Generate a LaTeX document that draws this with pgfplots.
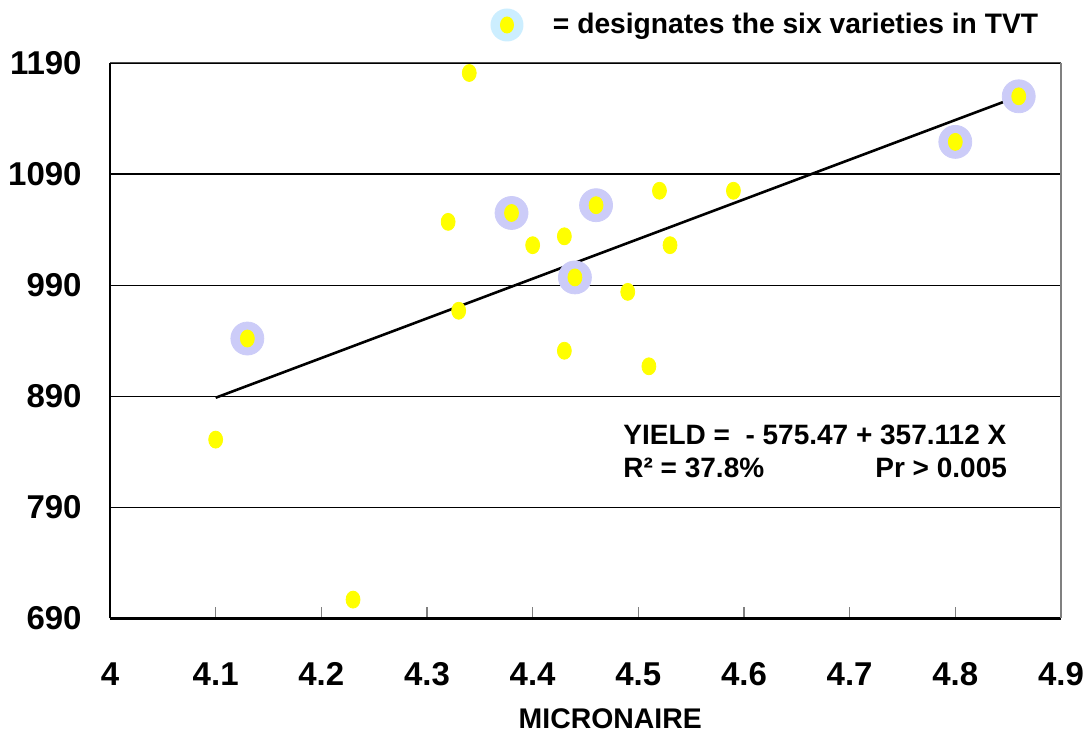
\documentclass[border=0pt]{standalone}
\usepackage{fontspec}
\setmainfont{Liberation Sans}
\usepackage{pgfplots}
\pgfplotsset{compat=1.18}
\definecolor{halo}{HTML}{CCCCF8}
\definecolor{legblue}{HTML}{CCEEFF}
\definecolor{dotyellow}{HTML}{FFFF00}
\begin{document}
\begin{tikzpicture}
\path[use as bounding box] (0pt,0pt) rectangle (545.5pt,366pt);
\begin{axis}[
  at={(55pt,56.75pt)}, anchor=south west,
  scale only axis, width=475.5pt, height=277.75pt,
  xmin=4, xmax=4.9, ymin=690, ymax=1190,
  xtick={4,4.1,4.2,4.3,4.4,4.5,4.6,4.7,4.8,4.9},
  xticklabels={4,4.1,4.2,4.3,4.4,4.5,4.6,4.7,4.8,4.9},
  ytick={690,790,890,990,1090,1190},
  yticklabels={690,790,890,990,1090,1190},
  axis x line*=bottom, axis y line*=left,
  axis line style={black, line width=1.1pt},
  tick align=inside, major tick length=5.5pt,
  xtick style={gray, line width=0.6pt},
  ytick style={draw=none},
  ymajorgrids, grid style={black, line width=0.6pt},
  /pgf/number format/assume math mode=true,
  ticklabel style={font=\bfseries\fontsize{16.5}{18}\selectfont},
  yticklabel style={anchor=east, inner sep=0pt, xshift=-14pt},
  xticklabel style={anchor=north, inner sep=0pt, yshift=-21.75pt},
  xlabel={MICRONAIRE},
  xlabel style={at={(rel axis cs:0.526,0)}, anchor=north, inner sep=0pt, yshift=-44.75pt, font=\bfseries\fontsize{14.2}{16}\selectfont},
  legend style={at={(0.4001,1.0684)}, anchor=west, draw=none, fill=none, inner sep=0pt, outer sep=0pt,
    font=\bfseries\fontsize{14.1}{16}\selectfont, nodes={inner sep=0pt}, column sep=0pt},
  legend cell align=left,
  clip=false,
]
\draw[gray!60!black, line width=0.5pt] (rel axis cs:0,1) -- (rel axis cs:1,1);
\draw[gray, line width=0.6pt] (rel axis cs:1,1) -- (rel axis cs:1,0);
% halos for the six TVT varieties
\addplot[forget plot, only marks, color=halo, mark=*, mark size=8.25pt, mark options={draw=none, fill=halo}]
  coordinates {(4.13,942) (4.38,1055) (4.44,997) (4.46,1062) (4.80,1119) (4.86,1160)};
% regression line
\addplot[forget plot, black, line width=1.3pt, no marks]
  coordinates {(4.10,888.7) (4.86,1160.1)};
% all varieties
\addplot[forget plot, only marks, color=dotyellow, mark=*, mark size=4.25pt, mark options={draw=none, fill=dotyellow, xscale=0.82}]
  coordinates {
  (4.10,851) (4.13,942) (4.23,707) (4.32,1047) (4.33,967) (4.34,1181)
  (4.38,1055) (4.40,1026) (4.43,1034) (4.43,931) (4.44,997) (4.46,1062)
  (4.49,984) (4.51,917) (4.52,1075) (4.53,1026) (4.59,1075) (4.80,1119) (4.86,1160)};
\addlegendimage{legend image code/.code={
  \fill[legblue, draw=none] (0pt,0pt) circle (8.25pt);
  \fill[dotyellow, draw=none] (0pt,0pt) ellipse (3.5pt and 4.25pt);
  \path[draw=none, fill=none] (0pt,0pt) -- (23pt,0pt);}}
\addlegendentry{= designates the six varieties in TVT}
\node[anchor=base west, inner sep=0pt, font=\bfseries\fontsize{14}{16}\selectfont] at (axis cs:4.4855,846.2) {YIELD =\ \ - 575.47 + 357.112 X};
\node[anchor=base west, inner sep=0pt, font=\bfseries\fontsize{14}{16}\selectfont] at (axis cs:4.4855,816.5) {R² = 37.8\%};
\node[anchor=base west, inner sep=0pt, font=\bfseries\fontsize{14}{16}\selectfont] at (axis cs:4.724,816.5) {Pr > 0.005};
\end{axis}
\end{tikzpicture}
\end{document}
